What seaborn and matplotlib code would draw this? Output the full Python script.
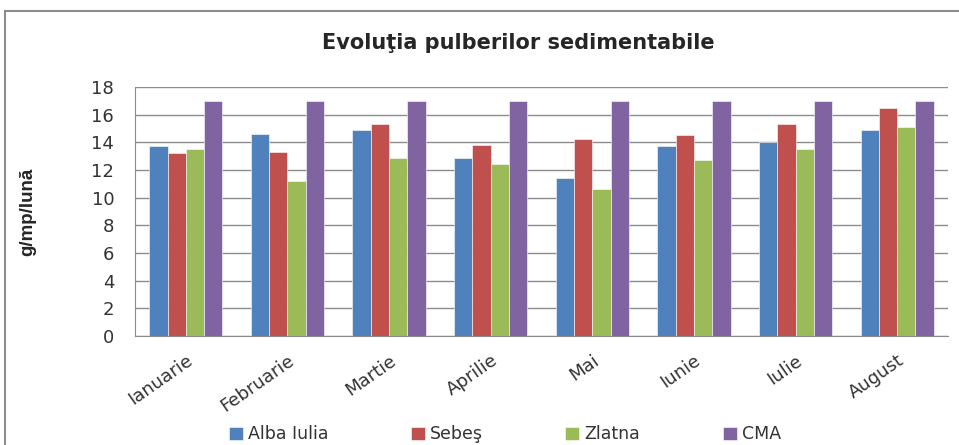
import numpy as np
import pandas as pd
import matplotlib
matplotlib.use("Agg")
import matplotlib.pyplot as plt
import seaborn as sns
from matplotlib.patches import Rectangle

months = ["Ianuarie", "Februarie", "Martie", "Aprilie", "Mai", "Iunie", "Iulie", "August"]
series = ["Alba Iulia", "Sebeş", "Zlatna", "CMA"]
alba_iulia = [13.7, 14.6, 14.9, 12.9, 11.45, 13.75, 14.0, 14.9]
sebes = [13.2, 13.3, 15.35, 13.8, 14.25, 14.55, 15.3, 16.45]
zlatna = [13.55, 11.2, 12.9, 12.4, 10.65, 12.7, 13.55, 15.1]
cma = [17, 17, 17, 17, 17, 17, 17, 17]
colors = ["#4F81BD", "#C0504D", "#9BBB59", "#8064A2"]

df = pd.DataFrame({
    "Luna": months * 4,
    "Statie": np.repeat(series, len(months)),
    "Valoare": alba_iulia + sebes + zlatna + cma,
})

sns.set_style("white")
plt.rcParams["font.family"] = ["DejaVu Sans"]

fig = plt.figure(figsize=(9.59, 4.45), dpi=100)
ax = fig.add_axes([0.1408, 0.2449, 0.8477, 0.5596])

sns.barplot(data=df, x="Luna", y="Valoare", hue="Statie", order=months,
            hue_order=series, palette=colors, width=0.72, saturation=1,
            edgecolor="white", linewidth=0.4, ax=ax)

ax.set_ylim(0, 18)
ax.set_yticks(range(0, 19, 2))
ax.set_xlim(-0.5, len(months) - 0.5)
ax.yaxis.grid(True, color="#8c8c8c", lw=1)
ax.set_axisbelow(True)
for s in ["top", "right"]:
    ax.spines[s].set_visible(False)
ax.spines["left"].set_color("#8c8c8c")
ax.spines["bottom"].set_color("#8c8c8c")

ax.set_xticks(np.arange(-0.5, len(months) + 0.5, 1), minor=True)
ax.tick_params(axis="x", which="minor", length=5, color="#8c8c8c", direction="out")
ax.tick_params(axis="x", which="major", length=0, labelsize=13, pad=11)
ax.tick_params(axis="y", length=5, color="#8c8c8c", direction="out", labelsize=13,
               pad=10, labelcolor="#333333")
ax.set_xticklabels(months, rotation=35, ha="right", rotation_mode="anchor",
                   color="#333333")

ax.set_xlabel("")
ax.set_ylabel("g/mp/lună", fontsize=13.5, fontweight="bold", family="Liberation Sans")
ax.yaxis.set_label_coords(-0.122, 0.5)
fig.text(0.54, 0.903, "Evoluţia pulberilor sedimentabile", ha="center",
         va="center", fontsize=15, fontweight="bold")

ax.legend(loc="center", bbox_to_anchor=(0.455, -0.395), ncol=4, frameon=False,
          fontsize=12.5, handlelength=0.8, handleheight=0.8, handletextpad=0.3,
          columnspacing=4.75, labelcolor="#333333")

fig.patches.append(Rectangle((5 / 959, -0.1), 1.2, 1.1 - 11 / 445, transform=fig.transFigure,
                             fill=False, edgecolor="#8c8c8c", lw=1.5))

fig.savefig("out.png", dpi=100)
